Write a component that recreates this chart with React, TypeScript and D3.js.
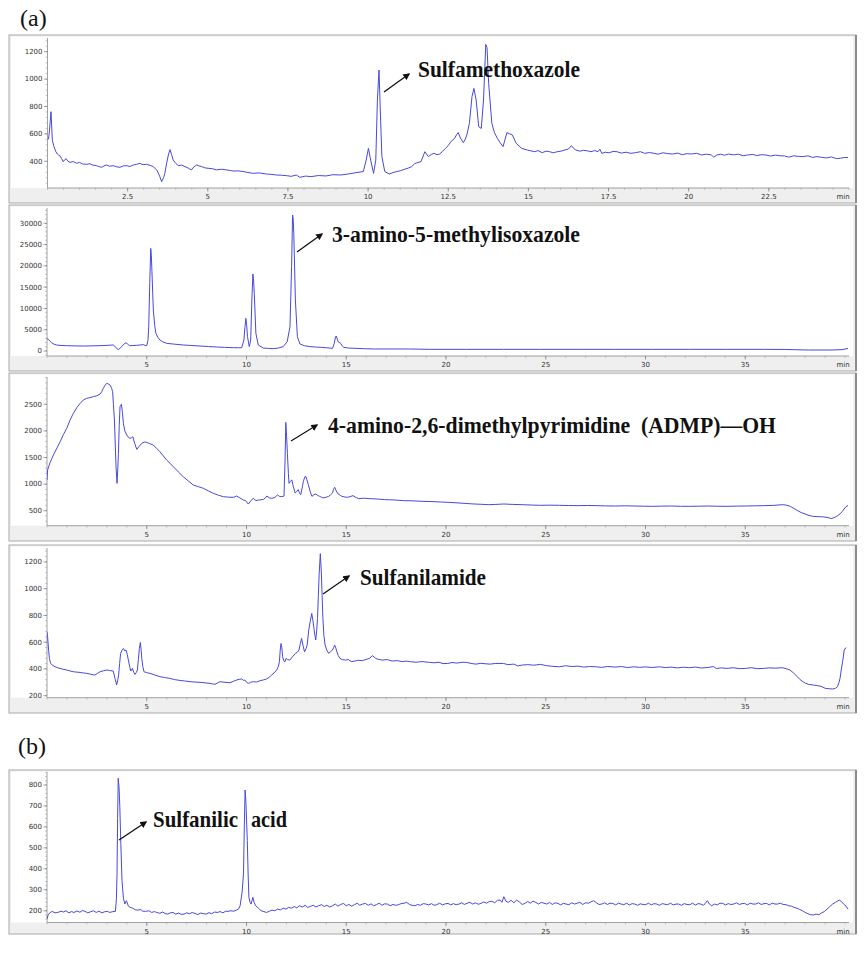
import React from "react";
import * as d3 from "d3";

type Pt = [number, number];

// ---------- Data (time in min, detector response) ----------
const smxTrace: Pt[] = [[0.03,560],[0.06,620],[0.11,762],[0.15,555],[0.2,507],[0.26,470],[0.31,453],[0.35,445],[0.39,439],[0.44,420],[0.49,397],[0.54,412],[0.58,419],[0.64,400],[0.7,392],[0.8,398],[0.91,385],[1.0,392],[1.1,380],[1.22,378],[1.32,382],[1.42,372],[1.53,368],[1.6,362],[1.69,356],[1.76,366],[1.84,373],[1.94,364],[2.05,368],[2.15,360],[2.26,356],[2.36,366],[2.47,368],[2.57,362],[2.68,373],[2.78,378],[2.88,385],[2.98,375],[3.09,378],[3.2,370],[3.3,361],[3.42,332],[3.5,290],[3.56,251],[3.62,280],[3.66,312],[3.72,390],[3.77,446],[3.82,485],[3.87,450],[3.92,409],[4.0,385],[4.08,368],[4.18,372],[4.29,361],[4.39,350],[4.49,337],[4.57,360],[4.65,373],[4.73,366],[4.81,361],[4.91,352],[5.01,349],[5.14,346],[5.27,337],[5.43,342],[5.59,337],[5.7,333],[5.79,329],[5.95,330],[6.1,325],[6.25,318],[6.42,312],[6.6,315],[6.83,307],[7.0,304],[7.14,300],[7.3,298],[7.46,295],[7.6,290],[7.76,300],[7.87,283],[8.05,292],[8.22,288],[8.45,296],[8.69,293],[8.9,302],[9.15,300],[9.4,308],[9.62,317],[9.85,325],[9.94,409],[10.01,494],[10.08,409],[10.17,312],[10.24,409],[10.29,847],[10.34,1066],[10.38,774],[10.43,434],[10.52,325],[10.66,307],[10.78,318],[10.9,325],[11.02,332],[11.13,341],[11.25,350],[11.36,361],[11.45,382],[11.53,390],[11.65,397],[11.77,470],[11.88,434],[11.97,450],[12.06,458],[12.15,448],[12.23,453],[12.32,472],[12.41,494],[12.5,515],[12.58,543],[12.7,568],[12.76,595],[12.81,609],[12.88,570],[12.97,536],[13.03,560],[13.08,592],[13.16,677],[13.24,871],[13.3,932],[13.37,847],[13.45,652],[13.53,640],[13.6,847],[13.67,1253],[13.71,1230],[13.76,969],[13.86,677],[13.94,610],[14.03,568],[14.12,535],[14.21,507],[14.33,609],[14.42,600],[14.5,592],[14.62,531],[14.79,494],[14.97,482],[15.08,476],[15.2,470],[15.3,478],[15.43,463],[15.55,474],[15.66,470],[15.78,462],[15.9,470],[16.02,474],[16.13,482],[16.25,490],[16.34,514],[16.41,495],[16.48,482],[16.6,474],[16.72,480],[16.83,477],[16.95,470],[17.07,478],[17.17,470],[17.23,488],[17.29,458],[17.4,466],[17.52,462],[17.64,472],[17.76,470],[17.9,460],[18.05,466],[18.2,458],[18.34,463],[18.5,470],[18.62,458],[18.78,464],[18.92,458],[19.05,452],[19.2,462],[19.35,456],[19.5,453],[19.65,460],[19.8,448],[19.95,456],[20.08,453],[20.25,458],[20.4,446],[20.55,452],[20.7,447],[20.78,430],[20.88,446],[21.0,452],[21.12,444],[21.24,453],[21.4,447],[21.55,452],[21.7,440],[21.83,446],[22.0,450],[22.12,442],[22.28,448],[22.41,446],[22.55,438],[22.7,445],[22.85,440],[22.99,439],[23.12,430],[23.28,440],[23.42,436],[23.57,434],[23.72,440],[23.86,428],[24.0,434],[24.15,429],[24.3,424],[24.45,432],[24.6,420],[24.73,422],[24.85,428],[24.97,427]];

const amiTrace: Pt[] = [[0.0,2900],[0.07,2750],[0.15,2300],[0.23,1950],[0.35,1600],[0.48,1410],[0.7,1300],[0.99,1250],[1.4,1200],[1.82,1170],[2.2,1200],[2.66,1250],[3.0,1320],[3.32,1410],[3.41,1020],[3.57,300],[3.65,600],[3.74,1020],[3.85,1600],[3.96,1950],[4.05,1600],[4.13,1250],[4.3,1280],[4.5,1330],[4.7,1420],[4.83,1490],[4.92,1300],[5.0,1250],[5.06,2500],[5.1,5700],[5.15,15900],[5.2,24100],[5.23,22500],[5.26,18600],[5.33,9610],[5.4,6000],[5.46,4140],[5.56,3200],[5.66,2580],[5.8,2150],[6.0,1800],[6.4,1600],[6.83,1410],[7.2,1300],[7.67,1170],[8.1,1050],[8.5,940],[8.9,850],[9.34,780],[9.6,760],[9.76,780],[9.87,2580],[9.92,5500],[9.97,7660],[10.01,6000],[10.05,3360],[10.14,1020],[10.21,2580],[10.27,11980],[10.32,18080],[10.35,17000],[10.39,13540],[10.47,4140],[10.59,1410],[10.84,700],[11.1,600],[11.34,550],[11.6,700],[11.84,1020],[12.04,2200],[12.18,5700],[12.26,19800],[12.31,31950],[12.34,31000],[12.37,27600],[12.45,12000],[12.55,3360],[12.68,1640],[12.9,1250],[13.19,1020],[13.5,920],[13.75,860],[14.0,760],[14.31,630],[14.4,1800],[14.46,3300],[14.5,3520],[14.55,2800],[14.59,2200],[14.72,1800],[14.8,1200],[14.87,860],[15.1,700],[15.43,630],[15.9,540],[16.36,470],[17.29,470],[18.22,470],[19.16,390],[21.02,390],[22.88,390],[24.75,390],[26.61,390],[28.48,390],[30.34,390],[32.2,390],[34.07,390],[35.93,390],[37.0,360],[37.43,310],[38.17,230],[39.29,230],[39.85,310],[40.0,470],[40.15,600]];

const admpTrace: Pt[] = [[0.0,1076],[0.03,1264],[0.15,1400],[0.32,1546],[0.5,1680],[0.66,1797],[0.82,1930],[0.99,2048],[1.15,2200],[1.32,2330],[1.5,2440],[1.66,2518],[1.82,2580],[1.99,2612],[2.15,2625],[2.32,2643],[2.5,2660],[2.66,2693],[2.75,2740],[2.82,2800],[2.9,2850],[2.99,2894],[3.08,2880],[3.16,2862],[3.24,2800],[3.29,2737],[3.33,2500],[3.38,2204],[3.46,1327],[3.51,1014],[3.55,1300],[3.58,1578],[3.62,2100],[3.66,2455],[3.73,2499],[3.78,2350],[3.83,2142],[3.9,2000],[4.0,1922],[4.08,1880],[4.16,1860],[4.23,1870],[4.3,1891],[4.4,1760],[4.5,1653],[4.6,1700],[4.75,1766],[4.88,1790],[5.0,1785],[5.15,1760],[5.33,1734],[5.5,1670],[5.66,1609],[5.83,1530],[6.0,1452],[6.17,1390],[6.33,1327],[6.58,1230],[6.83,1139],[7.08,1060],[7.33,982],[7.6,950],[7.84,920],[8.1,870],[8.34,826],[8.6,790],[8.84,763],[9.1,755],[9.34,751],[9.5,776],[9.67,740],[9.84,700],[9.95,690],[10.09,625],[10.2,680],[10.34,732],[10.47,690],[10.6,700],[10.72,705],[10.85,713],[10.95,740],[11.02,776],[11.15,740],[11.27,732],[11.42,750],[11.55,795],[11.65,770],[11.77,763],[11.88,776],[11.93,1400],[11.97,2160],[12.01,1900],[12.05,1578],[12.1,1200],[12.13,1014],[12.2,1050],[12.27,1080],[12.35,950],[12.44,833],[12.52,860],[12.59,896],[12.66,830],[12.72,801],[12.8,950],[12.85,1052],[12.93,1140],[12.97,1146],[13.03,1080],[13.1,989],[13.2,850],[13.28,770],[13.38,800],[13.47,814],[13.56,790],[13.66,770],[13.75,755],[13.84,739],[14.0,755],[14.12,770],[14.22,800],[14.31,833],[14.36,900],[14.42,939],[14.5,870],[14.59,814],[14.7,790],[14.78,770],[14.9,760],[15.06,751],[15.2,765],[15.34,783],[15.48,750],[15.62,727],[15.9,735],[16.18,727],[16.55,720],[16.92,708],[17.4,702],[17.85,689],[18.3,686],[18.79,676],[19.25,672],[19.72,664],[20.2,655],[20.65,645],[21.0,636],[21.4,626],[21.8,620],[22.15,613],[22.5,618],[22.89,626],[23.35,618],[23.82,613],[24.3,606],[24.75,601],[25.2,604],[25.69,601],[26.15,597],[26.62,595],[27.1,598],[27.56,595],[28.0,590],[28.49,588],[28.95,592],[29.42,588],[29.9,585],[30.35,582],[30.8,586],[31.29,588],[31.75,583],[32.22,582],[32.7,585],[33.15,588],[33.6,584],[34.09,582],[34.55,586],[35.02,588],[35.5,592],[35.95,595],[36.4,600],[36.88,613],[37.05,605],[37.26,582],[37.45,540],[37.63,501],[37.8,465],[38.0,439],[38.2,410],[38.38,395],[38.65,388],[38.94,383],[39.15,370],[39.31,351],[39.45,370],[39.59,395],[39.75,440],[39.87,489],[40.02,564],[40.15,600]];

const sulfanilamideTrace: Pt[] = [[0.0,678],[0.03,640],[0.08,540],[0.12,479],[0.18,441],[0.3,425],[0.4,417],[0.52,410],[0.65,404],[0.8,398],[0.99,392],[1.15,385],[1.32,379],[1.5,376],[1.66,374],[1.82,370],[1.99,367],[2.2,360],[2.4,354],[2.52,366],[2.66,379],[2.82,386],[2.99,392],[3.15,388],[3.32,384],[3.41,329],[3.49,280],[3.54,310],[3.59,354],[3.64,440],[3.69,516],[3.76,540],[3.83,553],[3.9,535],[3.96,541],[4.02,510],[4.08,466],[4.14,420],[4.2,384],[4.28,404],[4.35,375],[4.41,359],[4.47,372],[4.53,392],[4.58,470],[4.63,553],[4.68,598],[4.72,540],[4.75,479],[4.8,420],[4.86,379],[5.0,372],[5.16,367],[5.4,355],[5.66,342],[5.9,336],[6.16,329],[6.4,320],[6.67,314],[6.9,310],[7.17,305],[7.42,302],[7.67,300],[7.92,296],[8.17,292],[8.3,288],[8.42,285],[8.55,295],[8.67,305],[8.92,300],[9.17,297],[9.35,308],[9.5,317],[9.63,322],[9.76,325],[9.84,315],[9.92,317],[10.0,300],[10.09,292],[10.2,300],[10.34,305],[10.5,302],[10.68,312],[10.85,318],[11.01,325],[11.14,338],[11.26,354],[11.38,370],[11.51,392],[11.6,420],[11.65,454],[11.69,540],[11.73,590],[11.77,560],[11.81,491],[11.87,460],[11.93,454],[11.98,479],[12.05,470],[12.17,466],[12.3,490],[12.45,516],[12.55,525],[12.63,541],[12.7,590],[12.76,628],[12.84,570],[12.91,528],[12.98,550],[13.04,578],[13.12,690],[13.19,752],[13.27,815],[13.33,760],[13.38,703],[13.43,650],[13.47,616],[13.52,690],[13.56,777],[13.6,940],[13.64,1101],[13.7,1262],[13.75,1125],[13.79,950],[13.83,777],[13.88,650],[13.94,578],[14.03,540],[14.12,516],[14.22,530],[14.31,541],[14.37,560],[14.42,578],[14.48,555],[14.53,528],[14.6,500],[14.68,479],[14.8,470],[14.96,466],[15.1,470],[15.25,455],[15.43,459],[15.6,465],[15.8,462],[15.99,471],[16.15,478],[16.32,499],[16.45,482],[16.55,474],[16.8,466],[17.05,470],[17.29,459],[17.55,462],[17.8,455],[18.0,458],[18.22,454],[18.5,450],[18.8,455],[19.16,449],[19.4,446],[19.65,450],[19.85,440],[20.09,441],[20.3,448],[20.55,444],[20.8,450],[21.02,449],[21.3,440],[21.5,436],[21.75,442],[21.95,439],[22.2,436],[22.5,441],[22.88,441],[23.1,432],[23.4,436],[23.6,422],[23.82,429],[24.1,432],[24.4,428],[24.75,434],[25.0,425],[25.3,420],[25.68,416],[26.0,424],[26.3,418],[26.61,421],[26.9,414],[27.2,418],[27.54,416],[27.8,412],[28.1,418],[28.48,414],[28.8,418],[29.1,410],[29.41,416],[29.7,412],[30.0,415],[30.34,411],[30.7,416],[31.0,410],[31.27,414],[31.6,408],[31.9,413],[32.2,409],[32.5,414],[32.8,407],[33.14,411],[33.4,418],[33.55,403],[33.8,408],[34.07,404],[34.4,409],[34.7,402],[35.0,404],[35.3,409],[35.6,402],[35.93,404],[36.2,408],[36.5,406],[36.87,409],[37.05,402],[37.24,392],[37.42,370],[37.61,342],[37.75,320],[37.89,305],[38.03,292],[38.17,285],[38.4,280],[38.63,275],[38.8,270],[39.01,255],[39.2,252],[39.38,250],[39.52,255],[39.62,267],[39.7,300],[39.75,330],[39.82,400],[39.88,454],[39.96,541],[40.05,560]];

const sulfanilicTrace: Pt[] = [[0.0,160],[0.07,184],[0.18,192],[0.26,197],[0.4,190],[0.54,192],[0.7,198],[0.82,194],[0.95,200],[1.1,190],[1.22,196],[1.36,192],[1.5,199],[1.65,193],[1.78,201],[1.91,197],[2.05,190],[2.2,196],[2.33,200],[2.47,192],[2.6,198],[2.75,190],[2.88,195],[3.02,197],[3.15,192],[3.3,196],[3.43,197],[3.48,260],[3.51,376],[3.54,640],[3.57,832],[3.61,790],[3.65,696],[3.7,520],[3.76,344],[3.83,260],[3.9,232],[3.98,248],[4.08,222],[4.17,216],[4.3,212],[4.42,205],[4.53,203],[4.7,206],[4.8,198],[4.94,197],[5.1,200],[5.25,192],[5.38,196],[5.5,192],[5.65,188],[5.8,194],[5.92,187],[6.05,184],[6.18,190],[6.32,192],[6.45,184],[6.6,189],[6.72,183],[6.87,184],[7.0,190],[7.15,186],[7.28,192],[7.42,187],[7.56,182],[7.7,189],[7.85,186],[7.98,184],[8.12,191],[8.25,186],[8.4,194],[8.53,192],[8.68,196],[8.82,190],[8.95,198],[9.08,197],[9.22,200],[9.36,198],[9.49,203],[9.6,208],[9.68,224],[9.78,290],[9.85,376],[9.89,600],[9.93,776],[9.97,720],[10.04,536],[10.08,380],[10.12,264],[10.18,240],[10.23,232],[10.28,250],[10.32,264],[10.38,240],[10.46,224],[10.6,212],[10.73,200],[10.87,196],[11.01,192],[11.15,198],[11.28,203],[11.42,200],[11.56,208],[11.7,204],[11.84,212],[11.98,208],[12.11,216],[12.25,212],[12.4,220],[12.52,214],[12.66,224],[12.8,218],[12.94,226],[13.07,216],[13.21,221],[13.35,226],[13.48,218],[13.62,224],[13.76,229],[13.9,220],[14.03,226],[14.17,218],[14.31,224],[14.45,232],[14.58,222],[14.72,230],[14.86,235],[15.0,224],[15.13,230],[15.27,222],[15.41,229],[15.55,236],[15.68,226],[15.82,232],[15.96,235],[16.1,226],[16.24,233],[16.37,224],[16.51,229],[16.65,236],[16.79,226],[16.92,233],[17.06,232],[17.2,224],[17.34,230],[17.48,226],[17.62,229],[17.75,234],[17.9,236],[18.03,240],[18.17,230],[18.3,226],[18.44,224],[18.58,230],[18.72,226],[18.86,234],[18.99,232],[19.13,228],[19.27,234],[19.4,226],[19.54,229],[19.68,236],[19.82,228],[19.96,233],[20.1,235],[20.24,228],[20.37,234],[20.51,229],[20.65,232],[20.79,238],[20.92,230],[21.06,236],[21.2,240],[21.34,232],[21.48,238],[21.62,231],[21.75,235],[21.89,242],[22.03,236],[22.17,244],[22.3,245],[22.44,238],[22.58,250],[22.71,251],[22.8,240],[22.9,267],[23.0,246],[23.12,240],[23.26,250],[23.4,238],[23.54,251],[23.68,242],[23.82,230],[23.95,235],[24.09,244],[24.23,236],[24.36,246],[24.5,240],[24.64,232],[24.78,240],[24.91,236],[25.05,232],[25.19,240],[25.33,230],[25.47,238],[25.61,235],[25.75,228],[25.88,236],[26.02,232],[26.16,229],[26.3,238],[26.44,232],[26.57,236],[26.71,240],[26.85,230],[26.99,238],[27.13,236],[27.26,242],[27.4,248],[27.54,238],[27.67,230],[27.81,232],[27.95,238],[28.09,230],[28.22,236],[28.36,235],[28.5,228],[28.64,236],[28.78,232],[28.91,229],[29.05,236],[29.19,228],[29.33,234],[29.46,232],[29.6,226],[29.74,233],[29.88,230],[30.01,229],[30.15,236],[30.29,228],[30.43,234],[30.56,232],[30.7,226],[30.84,234],[30.98,231],[31.11,229],[31.25,236],[31.39,228],[31.53,232],[31.67,232],[31.8,226],[31.94,234],[32.08,230],[32.22,229],[32.36,236],[32.5,227],[32.63,234],[32.77,232],[32.91,226],[33.0,236],[33.1,248],[33.2,232],[33.32,224],[33.46,232],[33.6,228],[33.73,236],[33.87,235],[34.01,228],[34.15,234],[34.28,230],[34.42,232],[34.56,238],[34.7,230],[34.84,234],[34.97,235],[35.11,228],[35.25,236],[35.39,232],[35.52,232],[35.66,238],[35.8,230],[35.94,234],[36.07,235],[36.21,228],[36.35,236],[36.49,232],[36.62,232],[36.76,236],[36.9,230],[37.04,229],[37.18,224],[37.31,222],[37.45,216],[37.6,212],[37.73,206],[37.87,200],[38.0,192],[38.14,186],[38.28,181],[38.42,180],[38.55,184],[38.69,181],[38.83,190],[38.96,196],[39.1,208],[39.24,220],[39.38,232],[39.52,240],[39.62,246],[39.71,251],[39.82,244],[39.93,232],[40.05,222],[40.15,208]];

// ---------- Axis ticks ----------
const p1XTicks = [2.5, 5, 7.5, 10, 12.5, 15, 17.5, 20, 22.5];
const p1YTicks = [400, 600, 800, 1000, 1200];
const longXTicks = [5, 10, 15, 20, 25, 30, 35];
const p2YTicks = [0, 5000, 10000, 15000, 20000, 25000, 30000];
const p3YTicks = [500, 1000, 1500, 2000, 2500];
const p4YTicks = [200, 400, 600, 800, 1000, 1200];
const pbYTicks = [200, 300, 400, 500, 600, 700, 800];

// ---------- Compound labels ----------
const labelSmx = "Sulfamethoxazole";
const labelAmi = "3-amino-5-methylisoxazole";
const labelAdmp = "4-amino-2,6-dimethylpyrimidine\u00a0\u00a0(ADMP)\u2014OH";
const labelSulfanilamide = "Sulfanilamide";
const labelSulfanilic1 = "Sulfanilic";
const labelSulfanilic2 = "acid";

type Label = { text: string; x: number; y: number; w: number };
type PanelSpec = {
  data: Pt[];
  xDomain: [number, number];
  yDomain: [number, number];
  xTicks: number[];
  xMinor: number;
  yTicks: number[];
  yMinor: number;
  frameTop: number;
  frameBottom: number;
  plotTop: number;
  axisY: number;
  left: number;
  labels: Label[];
  arrow: [number, number, number, number];
};

const FRAME_L = 9;
const FRAME_R = 856;
const PLOT_R = 849;
const LINE = "#4848dc";

function Panel({ s, id }: { s: PanelSpec; id: string }) {
  const x = d3.scaleLinear().domain(s.xDomain).range([s.left, PLOT_R]);
  const y = d3.scaleLinear().domain(s.yDomain).range([s.axisY, s.plotTop]);
  const line = d3.line<Pt>().x((d) => x(d[0])).y((d) => y(d[1]));
  const minorX = d3.range(0, s.xDomain[1] + 1e-6, s.xMinor);
  const minorY = d3.range(
    Math.ceil(s.yDomain[0] / s.yMinor) * s.yMinor,
    s.yDomain[1],
    s.yMinor
  );
  const fmt = (v: number) => String(v);
  return (
    <g>
      <rect x={FRAME_L} y={s.frameTop} width={FRAME_R - FRAME_L} height={s.frameBottom - s.frameTop} fill="#efefef" stroke="#a9a9a9" strokeWidth={1} />
      <line x1={FRAME_R} y1={s.frameTop} x2={FRAME_R} y2={s.frameBottom} stroke="#8c8c8c" strokeWidth={2} />
      <rect x={FRAME_L + 2} y={s.frameTop + 1.5} width={FRAME_R - FRAME_L - 5} height={s.axisY - s.frameTop - 1.5} fill="#ffffff" />
      <clipPath id={id}>
        <rect x={s.left} y={s.plotTop - 1} width={PLOT_R - s.left + 1} height={s.axisY - s.plotTop + 1} />
      </clipPath>
      <line x1={s.left} y1={s.axisY} x2={PLOT_R} y2={s.axisY} stroke="#8a8a8a" strokeWidth={0.8} />
      <line x1={s.left} y1={s.plotTop} x2={s.left} y2={s.axisY} stroke="#8a8a8a" strokeWidth={0.8} />
      {minorX.map((t, i) => (
        <line key={"mx" + i} x1={x(t)} x2={x(t)} y1={s.axisY} y2={s.axisY + 1.8} stroke="#9a9a9a" strokeWidth={0.6} />
      ))}
      {s.xTicks.map((t) => (
        <g key={"xt" + t}>
          <line x1={x(t)} x2={x(t)} y1={s.axisY} y2={s.axisY + 3.5} stroke="#777" strokeWidth={0.7} />
          <text x={x(t)} y={s.axisY + 11} textAnchor="middle" fontSize={7} fill="#333" fontFamily="'DejaVu Sans', sans-serif">{fmt(t)}</text>
        </g>
      ))}
      <text x={843} y={s.axisY + 11} textAnchor="middle" fontSize={7} fill="#333" fontFamily="'DejaVu Sans', sans-serif">min</text>
      {minorY.map((v, i) => (
        <line key={"my" + i} x1={s.left - 1.8} x2={s.left} y1={y(v)} y2={y(v)} stroke="#9a9a9a" strokeWidth={0.6} />
      ))}
      {s.yTicks.map((v) => (
        <g key={"yt" + v}>
          <line x1={s.left - 3.5} x2={s.left} y1={y(v)} y2={y(v)} stroke="#777" strokeWidth={0.7} />
          <text x={s.left - 5} y={y(v) + 2.4} textAnchor="end" fontSize={7} fill="#333" fontFamily="'DejaVu Sans', sans-serif">{fmt(v)}</text>
        </g>
      ))}
      <path d={line(s.data) || ""} fill="none" stroke={LINE} strokeWidth={1} strokeLinejoin="round" clipPath={`url(#${id})`} />
      <line x1={s.arrow[0]} y1={s.arrow[1]} x2={s.arrow[2]} y2={s.arrow[3]} stroke="#111" strokeWidth={1.3} markerEnd="url(#arrowHead)" />
      {s.labels.map((l, i) => (
        <text key={"lb" + i} x={l.x} y={l.y} fontSize={24} fontWeight="bold" fill="#111" fontFamily="'Liberation Serif', 'Times New Roman', serif" textLength={l.w} lengthAdjust="spacingAndGlyphs">{l.text}</text>
      ))}
    </g>
  );
}

export default function App() {
  const panels: PanelSpec[] = [
    {
      data: smxTrace, xDomain: [0, 25], yDomain: [205, 1300], xTicks: p1XTicks, xMinor: 0.5,
      yTicks: p1YTicks, yMinor: 40, frameTop: 35, frameBottom: 203, plotTop: 38, axisY: 188, left: 47.5,
      labels: [{ text: labelSmx, x: 418, y: 77, w: 162 }], arrow: [384, 92, 409, 74],
    },
    {
      data: amiTrace, xDomain: [0, 40.2], yDomain: [-1175, 33590], xTicks: longXTicks, xMinor: 1,
      yTicks: p2YTicks, yMinor: 1000, frameTop: 205, frameBottom: 371, plotTop: 208, axisY: 356, left: 47,
      labels: [{ text: labelAmi, x: 332, y: 242, w: 248 }], arrow: [297, 252, 322, 234],
    },
    {
      data: admpTrace, xDomain: [0, 40.2], yDomain: [218, 3013], xTicks: longXTicks, xMinor: 1,
      yTicks: p3YTicks, yMinor: 100, frameTop: 373, frameBottom: 541, plotTop: 377, axisY: 525.7, left: 47,
      labels: [{ text: labelAdmp, x: 328, y: 433, w: 448 }], arrow: [291, 441, 317, 425],
    },
    {
      data: sulfanilamideTrace, xDomain: [0, 40.2], yDomain: [185, 1304], xTicks: longXTicks, xMinor: 1,
      yTicks: p4YTicks, yMinor: 40, frameTop: 545, frameBottom: 713, plotTop: 548, axisY: 697.7, left: 47,
      labels: [{ text: labelSulfanilamide, x: 360, y: 585, w: 126 }], arrow: [323, 594, 349, 576],
    },
    {
      data: sulfanilicTrace, xDomain: [0, 40.2], yDomain: [144, 862], xTicks: longXTicks, xMinor: 1,
      yTicks: pbYTicks, yMinor: 20, frameTop: 770, frameBottom: 934, plotTop: 772, axisY: 922.5, left: 47,
      labels: [
        { text: labelSulfanilic1, x: 153, y: 827, w: 85 },
        { text: labelSulfanilic2, x: 251, y: 827, w: 36 },
      ],
      arrow: [119, 840, 146, 822],
    },
  ];
  return (
    <svg width={867} height={956} style={{ position: "absolute", left: 0, top: 0, background: "#fff" }}>
      <defs>
        <marker id="arrowHead" viewBox="0 0 10 10" refX={8} refY={5} markerWidth={7} markerHeight={7} markerUnits="userSpaceOnUse" orient="auto">
          <path d="M0,0 L10,5 L0,10 z" fill="#111" />
        </marker>
      </defs>
      <rect x={0} y={0} width={867} height={956} fill="#fff" />
      <text x={20} y={26} fontSize={24} fill="#111" fontFamily="'Liberation Serif', 'Times New Roman', serif">(a)</text>
      <text x={18} y={754} fontSize={24} fill="#111" fontFamily="'Liberation Serif', 'Times New Roman', serif">(b)</text>
      {panels.map((p, i) => (
        <Panel key={i} s={p} id={"clip" + i} />
      ))}
    </svg>
  );
}
